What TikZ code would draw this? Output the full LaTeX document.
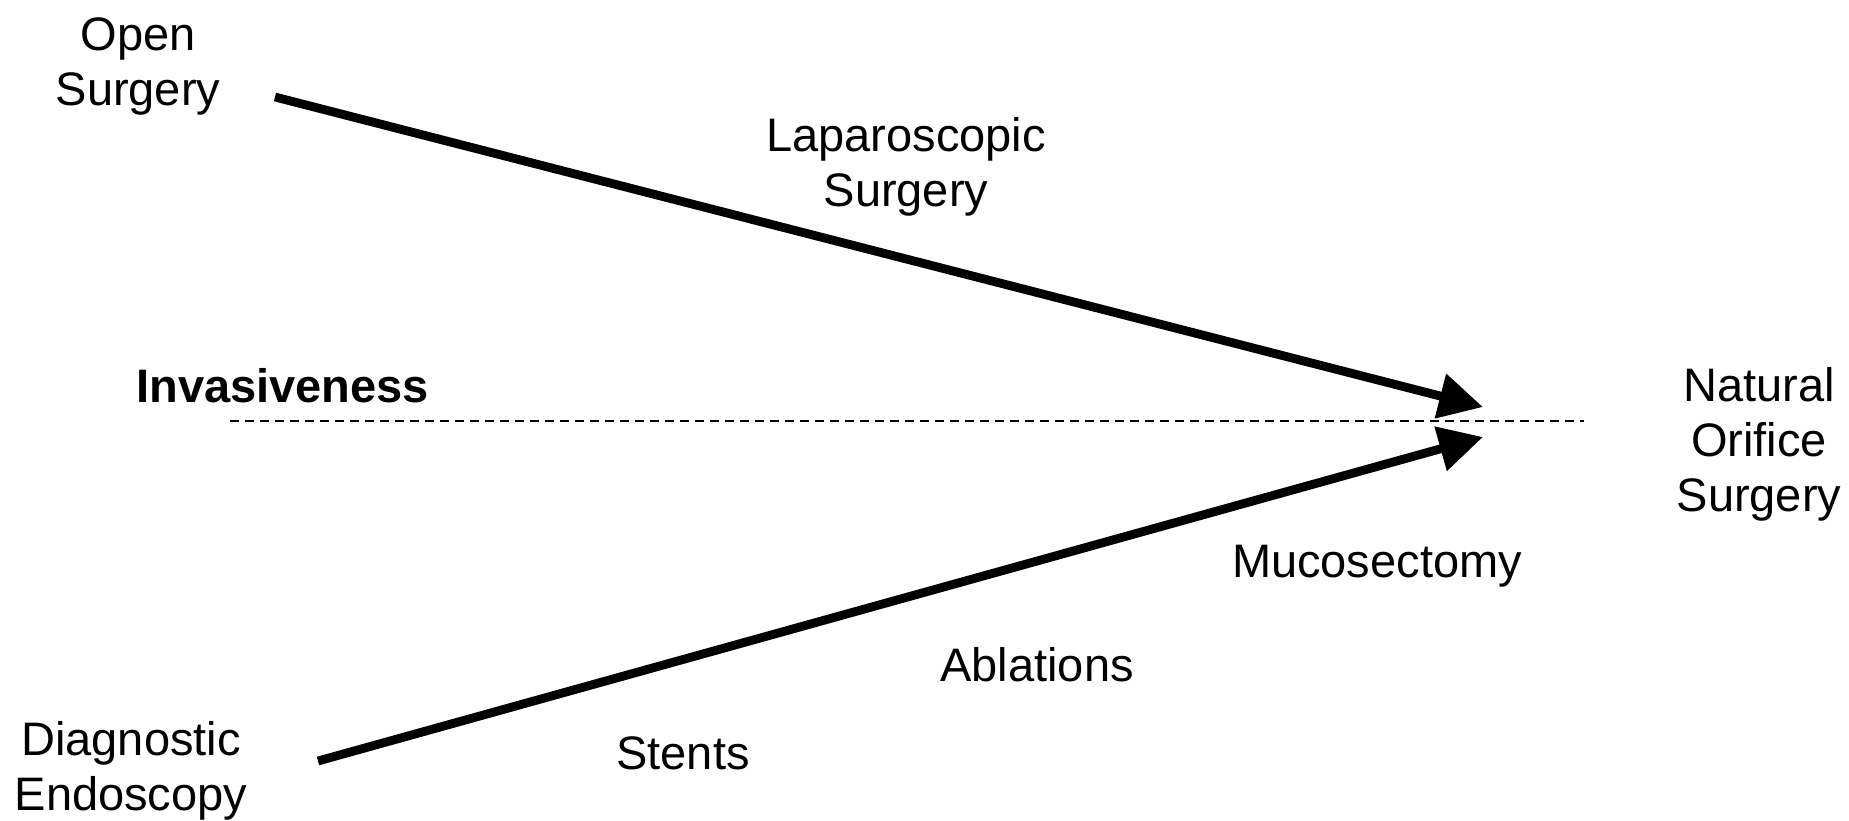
\documentclass[tikz,border=0pt]{standalone}
\usepackage{fontspec}
\setmainfont{Liberation Sans}
\usetikzlibrary{arrows.meta}
\begin{document}
\begin{tikzpicture}[x=0.5pt,y=-0.5pt,
  lbl/.style={align=center,font=\fontsize{23.5}{27.5}\selectfont,inner sep=0pt},
  bigarrow/.style={line width=4.4pt,-{Triangle[length=22pt,width=22pt]}}]
\useasboundingbox (0,0) rectangle (1849,820);
% labels
\node [lbl] (open) at (138,66) {Open\\Surgery};
\node [lbl] (lap) at (906,167) {Laparoscopic\\Surgery};
\node [lbl,font=\fontsize{23.5}{27.5}\selectfont\bfseries,anchor=west] (inv) at (136,386) {Invasiveness};
\node [lbl] (nos) at (1759,444) {Natural\\Orifice\\Surgery};
\node [lbl] (muco) at (1377,566) {Mucosectomy};
\node [lbl] (abl) at (1037,665) {Ablations};
\node [lbl] (stent) at (683,753) {Stents};
\node [lbl] (diag) at (131,771) {Diagnostic\\Endoscopy};
% arrows
\coordinate (os0) at (275,97); \coordinate (os1) at (1483,407);
\coordinate (de0) at (318,761); \coordinate (de1) at (1483,437);
\coordinate (ax0) at (230,421); \coordinate (ax1) at (1584,421);
\draw [line width=1.1pt,dash pattern=on 4.5pt off 3pt] (ax0) -- (ax1);
\draw [bigarrow] (os0) -- (os1);
\draw [bigarrow] (de0) -- (de1);
\end{tikzpicture}
\end{document}
